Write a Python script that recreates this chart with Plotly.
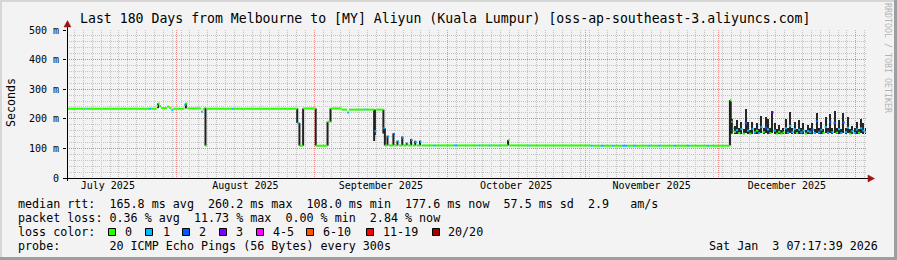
import plotly.graph_objects as go
import pandas as pd

# ---------------- data ----------------
START_TIME = "2025-07-07 07:17:39"
END_TIME = "2026-01-03 07:17:39"

# median rtt (ms) as a step series: value holds from its date until the next date
med_dates = [
    "2025-07-07 07:20", "2025-07-11 12:00", "2025-07-11 18:00", "2025-07-25 18:00",
    "2025-07-26 06:00", "2025-07-27 12:00", "2025-07-27 20:00", "2025-07-28 04:00",
    "2025-07-28 12:00", "2025-07-29 20:00", "2025-07-30 08:00", "2025-07-30 20:00",
    "2025-07-31 06:00", "2025-08-02 18:00", "2025-08-03 02:00", "2025-08-03 10:00",
    "2025-08-06 12:00", "2025-08-06 22:00", "2025-08-07 06:00", "2025-08-07 12:00",
    "2025-08-07 18:00", "2025-08-13 12:00", "2025-08-13 22:00", "2025-08-28 04:00",
    "2025-08-28 16:00", "2025-08-29 12:00", "2025-09-01 08:00", "2025-09-04 00:00",
    "2025-09-04 16:00", "2025-09-07 04:00", "2025-09-08 10:00", "2025-09-08 20:00",
    "2025-09-12 06:00", "2025-09-12 14:00", "2025-09-14 14:00", "2025-09-15 00:00",
    "2025-09-16 14:00", "2025-09-16 22:00", "2025-09-17 12:00", "2025-09-17 20:00",
    "2025-09-18 20:00", "2025-09-19 04:00", "2025-09-19 18:00", "2025-09-20 02:00",
    "2025-09-20 20:00", "2025-09-21 04:00", "2025-09-21 20:00", "2025-09-22 04:00",
    "2025-09-22 20:00", "2025-09-23 04:00", "2025-09-23 18:00", "2025-09-24 02:00",
    "2025-09-24 20:00", "2025-09-25 04:00", "2025-09-28 00:00", "2025-09-28 10:00",
    "2025-10-02 12:00", "2025-10-03 04:00", "2025-10-08 00:00", "2025-10-08 10:00",
    "2025-10-10 06:00", "2025-10-10 16:00", "2025-10-12 12:00", "2025-10-12 20:00",
    "2025-10-14 16:00", "2025-10-15 00:00", "2025-10-19 06:00", "2025-10-19 14:00",
    "2025-11-02 06:00", "2025-11-02 18:00", "2025-11-04 12:00", "2025-11-05 06:00",
    "2025-11-07 00:00", "2025-11-07 12:00", "2025-11-09 06:00", "2025-11-10 12:00",
    "2025-11-12 00:00", "2025-11-12 12:00", "2025-11-15 06:00", "2025-11-15 18:00",
    "2025-11-17 12:00", "2025-11-18 00:00", "2025-11-21 00:00", "2025-11-21 12:00",
    "2025-11-24 00:00", "2025-11-24 12:00", "2025-11-28 12:00", "2025-11-29 00:00",
    "2025-12-03 15:30", "2025-12-03 23:00", "2025-12-04 06:00",
]
med_ms = [
    234, 234, 234, 234,
    234, 244, 252, 243,
    236, 241, 237, 229,
    234, 247, 252, 235,
    224, 232, 237, 109,
    234, 234, 234, 186,
    109, 235, 109, 190,
    235, 231, 221, 231,
    231, 231, 158, 231,
    168, 110, 140, 110,
    148, 110, 124, 110,
    136, 110, 117, 110,
    128, 110, 122, 110,
    122, 110, 110, 110,
    110, 110, 110, 110,
    110, 110, 110, 110,
    128, 110, 110, 110,
    109, 109, 109, 109,
    109, 109, 109, 109,
    109, 109, 109, 109,
    109, 109, 109, 109,
    109, 109, 109, 109,
    263, 190, 168,
]
med_loss = [
    0, 1, 0, 1,
    0, 0, 0, 0,
    0, 0, 0, 1,
    0, 1, 0, 0,
    1, 0, 0, 0,
    0, 1, 0, 1,
    0, 0, 0, 0,
    0, 0, 1, 0,
    1, 0, 1, 0,
    1, 0, 1, 0,
    2, 0, 1, 0,
    1, 0, 1, 0,
    1, 0, 1, 0,
    1, 0, 1, 0,
    1, 0, 1, 0,
    1, 0, 1, 0,
    0, 0, 1, 0,
    1, 0, 1, 0,
    1, 0, 1, 0,
    1, 0, 1, 0,
    1, 0, 1, 0,
    1, 0, 1, 0,
    0, 0, 1,
]

# last month: 12-hourly samples starting here (median, lowest and highest ping)
tail_start = "2025-12-04 12:00"
tail_med = [
    156, 162, 152, 165, 150, 185, 160, 150, 166, 154,
    160, 152, 172, 155, 170, 164, 152, 222, 160, 150,
    156, 150, 154, 168, 153, 176, 155, 165, 152, 163,
    154, 160, 150, 158, 155, 164, 152, 192, 154, 163,
    152, 172, 153, 190, 155, 186, 153, 165, 152, 188,
    155, 170, 150, 158, 152, 164, 153, 168, 160, 155,
]
tail_lo = [
    150, 150, 148, 150, 147, 152, 150, 147, 150, 149,
    150, 148, 151, 149, 151, 150, 148, 152, 150, 147,
    149, 147, 148, 150, 148, 151, 149, 150, 148, 150,
    149, 150, 147, 149, 149, 150, 148, 152, 149, 150,
    148, 151, 148, 152, 149, 152, 148, 150, 148, 152,
    149, 151, 147, 149, 148, 150, 148, 151, 150, 149,
]
tail_hi = [
    175, 196, 168, 190, 165, 232, 190, 162, 190, 170,
    185, 165, 210, 170, 205, 198, 168, 226, 185, 165,
    180, 162, 170, 198, 168, 222, 170, 190, 165, 196,
    168, 187, 162, 180, 168, 187, 165, 218, 168, 190,
    165, 207, 168, 215, 170, 226, 168, 196, 165, 218,
    168, 207, 165, 176, 168, 190, 165, 200, 185, 170,
]
tail_loss = [
    0, 1, 0, 1, 0, 2, 1, 0, 1, 1,
    0, 1, 1, 0, 2, 1, 0, 3, 1, 0,
    0, 0, 0, 1, 1, 1, 1, 1, 0, 1,
    1, 1, 0, 1, 1, 2, 1, 2, 1, 1,
    0, 1, 1, 2, 1, 2, 0, 1, 1, 2,
    1, 1, 0, 1, 1, 1, 0, 1, 1, 1,
]

# smoke (spread of the pings) at transitions in the first five months
smoke_dates = [
    "2025-07-27 20:00", "2025-08-03 02:00", "2025-08-07 12:00", "2025-08-28 04:00",
    "2025-08-28 16:00", "2025-08-29 12:00", "2025-09-01 08:00", "2025-09-04 00:00",
    "2025-09-04 16:00", "2025-09-14 12:00", "2025-09-14 16:00", "2025-09-16 14:00",
    "2025-09-16 22:00", "2025-09-17 12:00", "2025-09-18 20:00", "2025-09-19 18:00",
    "2025-09-20 20:00", "2025-09-21 20:00", "2025-09-22 20:00", "2025-09-23 18:00",
    "2025-09-24 20:00", "2025-10-14 16:00", "2025-12-03 15:30", "2025-12-03 20:00",
    "2025-12-04 02:00",
]
smoke_lo = [
    236, 235, 109, 186,
    109, 109, 109, 109,
    190, 125, 145, 150,
    110, 110, 110, 110,
    110, 110, 110, 110,
    110, 110, 110, 150,
    150,
]
smoke_hi = [
    252, 252, 237, 235,
    186, 235, 235, 190,
    235, 231, 231, 231,
    168, 143, 151, 126,
    140, 119, 132, 126,
    126, 128, 263, 258,
    200,
]

y_ticks = [0, 100, 200, 300, 400, 500]
y_tick_text = ["0", "100 m", "200 m", "300 m", "400 m", "500 m"]

loss_labels = ["0", "1", "2", "3", "4-5", "6-10", "11-19", "20/20"]
loss_colors = ["#26ff00", "#00b8ff", "#0059ff", "#7e00ff", "#ff00ff", "#ff5500", "#ff0000", "#a10000"]

title_text = "Last 180 Days from Melbourne to [MY] Aliyun (Kuala Lumpur) [oss-ap-southeast-3.aliyuncs.com]"
rtt_line = "median rtt:  165.8 ms avg  260.2 ms max  108.0 ms min  177.6 ms now  57.5 ms sd  2.9   am/s"
loss_line = "packet loss: 0.36 % avg  11.73 % max  0.00 % min  2.84 % now"
probe_line = "probe:       20 ICMP Echo Pings (56 Bytes) every 300s"
stamp_text = "Sat Jan  3 07:17:39 2026"

# ---------------- geometry helpers ----------------
W, H = 897, 260
L, R, T, B = 67, 31, 30, 82
PW, PH = W - L - R, H - T - B


def fx(px):
    return (px - L) / PW


def fy(py):
    return (H - B - py) / PH


def nb(s):
    return s.replace(" ", "\u00a0")


MONO = "DejaVu Sans Mono"
BG = "#F3F3F3"
MAJOR = "rgba(235,110,110,0.75)"
MINOR = "#c4c4c4"

fig = go.Figure()

# smoke at transitions
sx, sy = [], []
for t, lo, hi in zip(pd.to_datetime(smoke_dates), smoke_lo, smoke_hi):
    sx += [t, t, None]
    sy += [lo, hi, None]
fig.add_trace(go.Scatter(x=sx, y=sy, mode="lines", line=dict(color="#202020", width=2),
                         hoverinfo="skip"))

# smoke of the last month as columns
tail_times = list(pd.date_range(tail_start, periods=len(tail_med), freq="12h"))
half_step = pd.Timedelta(hours=6)
fig.add_trace(go.Bar(
    x=[t + half_step for t in tail_times],
    base=tail_lo,
    y=[h - l for h, l in zip(tail_hi, tail_lo)],
    width=7 * 3600 * 1000,
    marker=dict(color="#262626", line=dict(width=0)),
    hoverinfo="skip",
))

# median line, coloured by loss
t_all = list(pd.to_datetime(med_dates)) + tail_times
v_all = med_ms + tail_med
l_all = med_loss + tail_loss
t_end = pd.Timestamp(END_TIME)
segs = {k: ([], []) for k in range(len(loss_colors))}
for i in range(len(t_all)):
    t0 = t_all[i]
    t1 = t_all[i + 1] if i + 1 < len(t_all) else t_end
    xs, ys = segs[l_all[i]]
    xs += [t0, t1, None]
    ys += [v_all[i], v_all[i], None]
for k in range(len(loss_colors)):
    xs, ys = segs[k]
    if xs:
        fig.add_trace(go.Scatter(x=xs, y=ys, mode="lines",
                                 line=dict(color=loss_colors[k], width=2),
                                 name=loss_labels[k], hoverinfo="skip"))

fig.update_layout(
    width=W, height=H,
    margin=dict(l=L, r=R, t=T, b=B, pad=0),
    paper_bgcolor=BG, plot_bgcolor=BG,
    showlegend=False, bargap=0,
    font=dict(family=MONO, size=10, color="#000000"),
)
fig.update_xaxes(
    type="date", range=[START_TIME, END_TIME],
    tick0="2025-07-01", dtick="M1", ticklabelmode="period", tickformat="%B %Y",
    tickfont=dict(family=MONO, size=10, color="#000"),
    showgrid=True, gridcolor=MAJOR, gridwidth=1, griddash="1px,1px",
    ticks="", showline=False, zeroline=False,
    minor=dict(tick0="2025-07-01", dtick=2 * 86400000, showgrid=True,
               gridcolor=MINOR, gridwidth=1, griddash="1px,1px"),
    fixedrange=True,
)
fig.update_yaxes(
    range=[0, 500], tickmode="array", tickvals=y_ticks, ticktext=y_tick_text,
    tickfont=dict(family=MONO, size=10, color="#000"),
    showgrid=True, gridcolor=MAJOR, gridwidth=1, griddash="1px,1px",
    ticks="outside", ticklen=3, tickcolor="#000", tickwidth=1,
    ticklabelstandoff=2,
    showline=False, zeroline=False,
    minor=dict(tickmode="linear", tick0=0, dtick=20, showgrid=True,
               gridcolor=MINOR, gridwidth=1, griddash="1px,1px"),
    fixedrange=True,
)

shapes = []
# axis lines
shapes.append(dict(type="line", xref="paper", yref="paper", x0=fx(67.5), x1=fx(67.5),
                   y0=fy(181), y1=fy(26), line=dict(color="#000", width=1), layer="above"))
shapes.append(dict(type="line", xref="paper", yref="paper", x0=fx(63), x1=fx(869),
                   y0=fy(178.5), y1=fy(178.5), line=dict(color="#000", width=1), layer="above"))
# arrows
shapes.append(dict(type="path", xref="paper", yref="paper",
                   path=f"M {fx(64)},{fy(27)} L {fx(71)},{fy(27)} L {fx(67.5)},{fy(20.5)} Z",
                   fillcolor="#9c1515", line=dict(color="#9c1515", width=0.5), layer="above"))
shapes.append(dict(type="path", xref="paper", yref="paper",
                   path=f"M {fx(868)},{fy(175)} L {fx(868)},{fy(182)} L {fx(874.5)},{fy(178.5)} Z",
                   fillcolor="#9c1515", line=dict(color="#9c1515", width=0.5), layer="above"))
# frame shading
shapes.append(dict(type="rect", xref="paper", yref="paper", x0=fx(0), x1=fx(W), y0=fy(0), y1=fy(2),
                   fillcolor="#d6d6d6", line=dict(width=0), layer="above"))
shapes.append(dict(type="rect", xref="paper", yref="paper", x0=fx(0), x1=fx(2), y0=fy(0), y1=fy(H),
                   fillcolor="#d6d6d6", line=dict(width=0), layer="above"))
shapes.append(dict(type="rect", xref="paper", yref="paper", x0=fx(0), x1=fx(W), y0=fy(257), y1=fy(H),
                   fillcolor="#9e9e9e", line=dict(width=0), layer="above"))
shapes.append(dict(type="rect", xref="paper", yref="paper", x0=fx(894), x1=fx(W), y0=fy(0), y1=fy(H),
                   fillcolor="#9e9e9e", line=dict(width=0), layer="above"))

# loss colour legend boxes
box_left = [108.5, 145.5, 182.5, 219.5, 256.5, 306.5, 366.5, 432.5]
label_left = [123.3, 160.7, 197.3, 234.3, 271.0, 321.0, 381.0, 446.0]
for k in range(len(loss_colors)):
    x0 = box_left[k]
    shapes.append(dict(type="rect", xref="paper", yref="paper",
                       x0=fx(x0), x1=fx(x0 + 7), y0=fy(228.5), y1=fy(235.5),
                       fillcolor=loss_colors[k], line=dict(color="#000", width=1), layer="above"))
fig.update_layout(shapes=shapes)

ann = []


def text(px, py, s, size, anchor="left", color="#000", angle=0):
    ann.append(dict(xref="paper", yref="paper", x=fx(px), y=fy(py), text=nb(s),
                    showarrow=False, xanchor=anchor, yanchor="middle", textangle=angle,
                    font=dict(family=MONO, size=size, color=color)))


text(445, 18.5, title_text, 13.2, anchor="center")
text(10.5, 102.5, "Seconds", 11.6, anchor="center", angle=-90)
text(888, 58, "RRDTOOL / TOBI OETIKER", 8.3, anchor="center", color="#b4b4b4", angle=90)
text(16, 204.3, rtt_line, 11.7)
text(16, 218.3, loss_line, 11.7)
text(16, 232.3, "loss color:", 11.7)
for k in range(len(loss_labels)):
    text(label_left[k], 232.3, loss_labels[k], 11.7)
text(16, 246.3, probe_line, 11.7)
text(880.5, 246.3, stamp_text, 11.7, anchor="right")
fig.update_layout(annotations=ann)

fig.write_html("out.html")
